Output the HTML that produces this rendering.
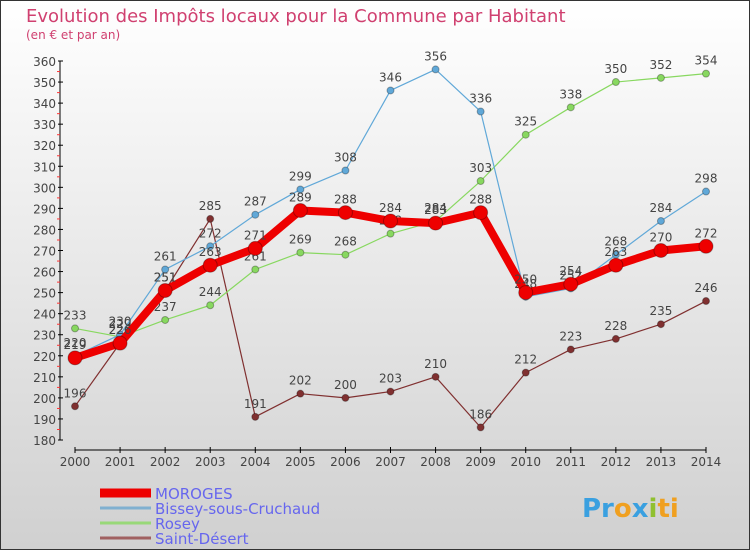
<!DOCTYPE html>
<html><head><meta charset="utf-8"><style>
body{margin:0}
svg text{font-family:"DejaVu Sans","Liberation Sans",sans-serif}
</style></head><body>
<svg width="750" height="550" xmlns="http://www.w3.org/2000/svg">
<defs><linearGradient id="bg" x1="0" y1="0" x2="0" y2="1"><stop offset="0" stop-color="#ffffff"/><stop offset="1" stop-color="#d0d0d0"/></linearGradient></defs>
<rect x="0.5" y="0.5" width="749" height="549" fill="url(#bg)" stroke="#333"/>
<text x="26" y="22" font-size="18" fill="#d04070">Evolution des Impôts locaux pour la Commune par Habitant</text>
<text x="26" y="39" font-size="12" fill="#d04070">(en € et par an)</text>
<g id="axes"></g><g id="series"></g><g id="legend"></g>
<text x="582" y="517" font-size="26" font-weight="bold" fill="#f0a020"><tspan fill="#3aa0e0">Pr</tspan><tspan fill="#f0a020">o</tspan><tspan fill="#3aa0e0">x</tspan><tspan fill="#90c030">i</tspan><tspan fill="#f0a020">ti</tspan></text>
</svg>
<script>
const years=[2000,2001,2002,2003,2004,2005,2006,2007,2008,2009,2010,2011,2012,2013,2014];
const moroges=[219,226,251,263,271,289,288,284,283,288,250,254,263,270,272];
const bissey=[220,230,261,272,287,299,308,346,356,336,248,252,268,284,298];
const rosey=[233,229,237,244,261,269,268,278,284,303,325,338,350,352,354];
const stdesert=[196,226,251,285,191,202,200,203,210,186,212,223,228,235,246];
const yTicks=[180,190,200,210,220,230,240,250,260,270,280,290,300,310,320,330,340,350,360];
const NS="http://www.w3.org/2000/svg";
const xS=i=>75+i*(706-75)/14;
const yS=v=>440-(v-180)*(440-61)/180;
function mk(t,a,p){const e=document.createElementNS(NS,t);for(const k in a)e.setAttribute(k,a[k]);p.appendChild(e);return e;}
const ax=document.getElementById('axes');
mk('line',{x1:60,y1:61,x2:60,y2:440,stroke:'#000'},ax);
mk('line',{x1:75,y1:450,x2:706,y2:450,stroke:'#000'},ax);
yTicks.forEach(v=>{const y=yS(v);
mk('line',{x1:58,y1:y,x2:63,y2:y,stroke:'#000'},ax);
if(v<360)mk('line',{x1:57,y1:y-10.5,x2:60,y2:y-10.5,stroke:'#f33'},ax);
const t=mk('text',{x:56,y:y+5,'font-size':12,'text-anchor':'end',fill:'#444'},ax);t.textContent=v;
});
years.forEach((yr,i)=>{const x=xS(i);
mk('line',{x1:x,y1:447,x2:x,y2:453,stroke:'#000'},ax);
const t=mk('text',{x:x,y:466,'font-size':12,'text-anchor':'middle',fill:'#444'},ax);t.textContent=yr;
});
const sg=document.getElementById('series');
const defs=[
 {d:stdesert,c:'#803030',w:1.2,r:3.5,name:'saint-desert'},
 {d:rosey,c:'#88d860',w:1.2,r:3.5,name:'rosey'},
 {d:bissey,c:'#60a8d8',w:1.2,r:3.5,name:'bissey'},
 {d:moroges,c:'#ee0000',w:8,r:7,name:'moroges'}];
defs.forEach(s=>{const g=mk('g',{},sg);

const pts=s.d.map((v,i)=>xS(i)+','+yS(v)).join(' ');
mk('polyline',{points:pts,fill:'none',stroke:s.c,'stroke-width':s.w,'stroke-linejoin':'round'},g);
s.d.forEach((v,i)=>{const p=mk('circle',{cx:xS(i),cy:yS(v),r:s.r,fill:s.c,stroke:'rgba(0,0,0,0.3)'},g);

const t=mk('text',{x:xS(i),y:yS(v)-9,'font-size':12,'text-anchor':'middle',fill:'#444'},g);t.textContent=v;
});});
const lg=document.getElementById('legend');
[['MOROGES','#ee0000',9],['Bissey-sous-Cruchaud','#80b0d0',3],['Rosey','#98d878',3],['Saint-Désert','#a06060',3]].forEach((e,i)=>{
const y=493+i*15;const g=mk('g',{},lg);

mk('line',{x1:100,y1:y,x2:151,y2:y,stroke:e[1],'stroke-width':e[2]},g);
const t=mk('text',{x:155,y:y+6,'font-size':15,fill:'#6666ee'},g);t.textContent=e[0];});
</script>
</body></html>
